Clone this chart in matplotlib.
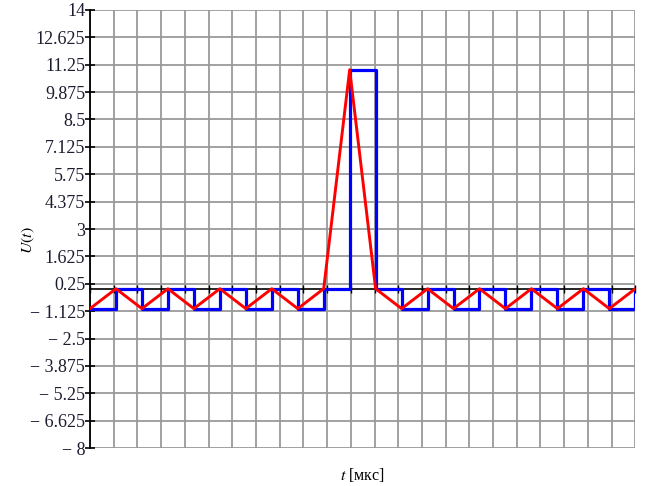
import numpy as np
import matplotlib.pyplot as plt
from matplotlib.ticker import FixedLocator, FixedFormatter

plt.rcParams['font.family'] = ['Liberation Serif', 'DejaVu Serif']
plt.rcParams['mathtext.fontset'] = 'stix'

# Отсчёты сигнала (мкс) и значения U(t)
t = [0, 1, 2, 3, 4, 5, 6, 7, 8, 9, 10, 11, 12, 13, 14, 15, 16, 17, 18, 19, 20, 21]
u = [-1, 0, -1, 0, -1, 0, -1, 0, -1, 0, 11, 0, -1, 0, -1, 0, -1, 0, -1, 0, -1, 0]

y_ticks = [14, 12.625, 11.25, 9.875, 8.5, 7.125, 5.75, 4.375, 3, 1.625, 0.25,
           -1.125, -2.5, -3.875, -5.25, -6.625, -8]
y_labels = [('\u2212 ' + f'{abs(v):g}') if v < 0 else f'{v:g}' for v in y_ticks]

fig = plt.figure(figsize=(6.7, 4.86), dpi=100)
ax = fig.add_axes([90/670, 38/486, 545.3/670, 438/486])

ax.set_xlim(0, 21)
ax.set_ylim(-8, 14)

# сетка
ax.xaxis.set_major_locator(FixedLocator(np.linspace(0, 21, 24)))
ax.yaxis.set_major_locator(FixedLocator(y_ticks))
ax.yaxis.set_major_formatter(FixedFormatter(y_labels))
ax.grid(True, color='#9a9a9a', lw=1.3, zorder=0)
ax.set_axisbelow(True)

for s in ['top', 'right']:
    ax.spines[s].set_visible(False)
ax.spines['left'].set_color('black')
ax.spines['left'].set_linewidth(1.3)
ax.spines['bottom'].set_position(('data', 0))
ax.spines['bottom'].set_color('black')
ax.spines['bottom'].set_linewidth(1.2)
ax.spines['bottom'].set_zorder(1)

ax.tick_params(axis='y', direction='inout', length=7, width=1.2, pad=0,
               labelsize=13, labelcolor='#1c1c30')
ax.tick_params(axis='x', direction='inout', length=6, width=1, labelbottom=False)

ax.plot(t, u, color='#0000ff', lw=2.3, drawstyle='steps-post', zorder=3)
ax.plot(t, u, color='#ff0000', lw=2.1, zorder=4)

ax.set_ylabel('$U(t)$', fontsize=11.5)
ax.yaxis.set_label_coords(-0.097, 0.475)
ax.set_xlabel('$t$ [мкс]', fontsize=11.5)
ax.xaxis.set_label_coords(0.499, -0.04)

fig.savefig('out.png', dpi=100)
